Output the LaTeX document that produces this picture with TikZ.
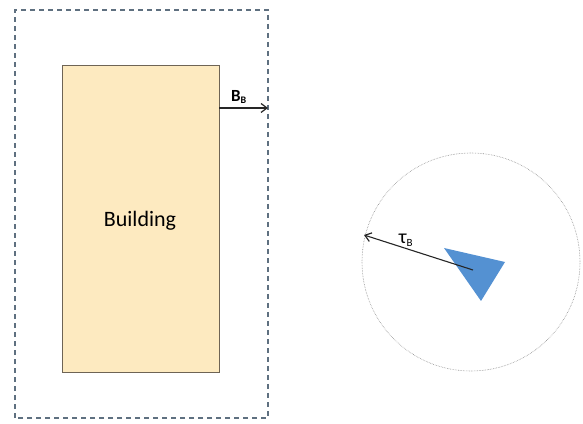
\documentclass[tikz,border=0pt]{standalone}
\usepackage{fontspec}
\setmainfont{Carlito}
\usetikzlibrary{arrows.meta}
\definecolor{bfill}{RGB}{253,234,192}
\definecolor{bdraw}{RGB}{110,100,85}
\definecolor{dashc}{RGB}{95,112,128}
\definecolor{triblue}{RGB}{84,145,210}
\tikzset{
  dashbox/.style={draw=dashc, line width=1.2pt, dash pattern=on 5pt off 4pt},
  bldg/.style={draw=bdraw, fill=bfill, line width=0.9pt},
  arr/.style={-{Straight Barb[length=6pt,width=9pt,line width=1.2pt]}, line width=1.1pt, black!85}
}
\begin{document}
\begin{tikzpicture}[x=1pt,y=1pt]
\useasboundingbox (0,0) rectangle (583,423);
% dashed boundary
\draw[dashbox] (15,5) rectangle (268,413);
% building
\node[bldg, minimum width=157pt, minimum height=307pt, anchor=south west, inner sep=0pt] (bld) at (62,50) {};
\node[font=\fontsize{22}{26}\selectfont] (blabel) at (140,202) {Building};
\coordinate (bstart) at (219,315);
\coordinate (bend) at (268,315);
\draw[arr] (bstart) -- (bend);
\node[font=\bfseries\fontsize{17}{20}\selectfont] (bb) at (239,326) {B\textsubscript{\fontsize{10}{11}\selectfont B}};
% circle
\node[draw=black!45, densely dotted, line width=0.6pt, circle, minimum size=218pt, inner sep=0pt] (circ) at (471,161) {};
\fill[triblue] (444,175) coordinate (t1) -- (505,161) coordinate (t2) -- (481,122) coordinate (t3) -- cycle;
\coordinate (tc) at (473,153);
\coordinate (tip) at (364,188);
\draw[arr] (tc) -- (tip);
\node[font=\fontsize{20}{24}\selectfont] (tau) at (406,183) {τ\textsubscript{\fontsize{11}{12}\selectfont B}};
\end{tikzpicture}
\end{document}
